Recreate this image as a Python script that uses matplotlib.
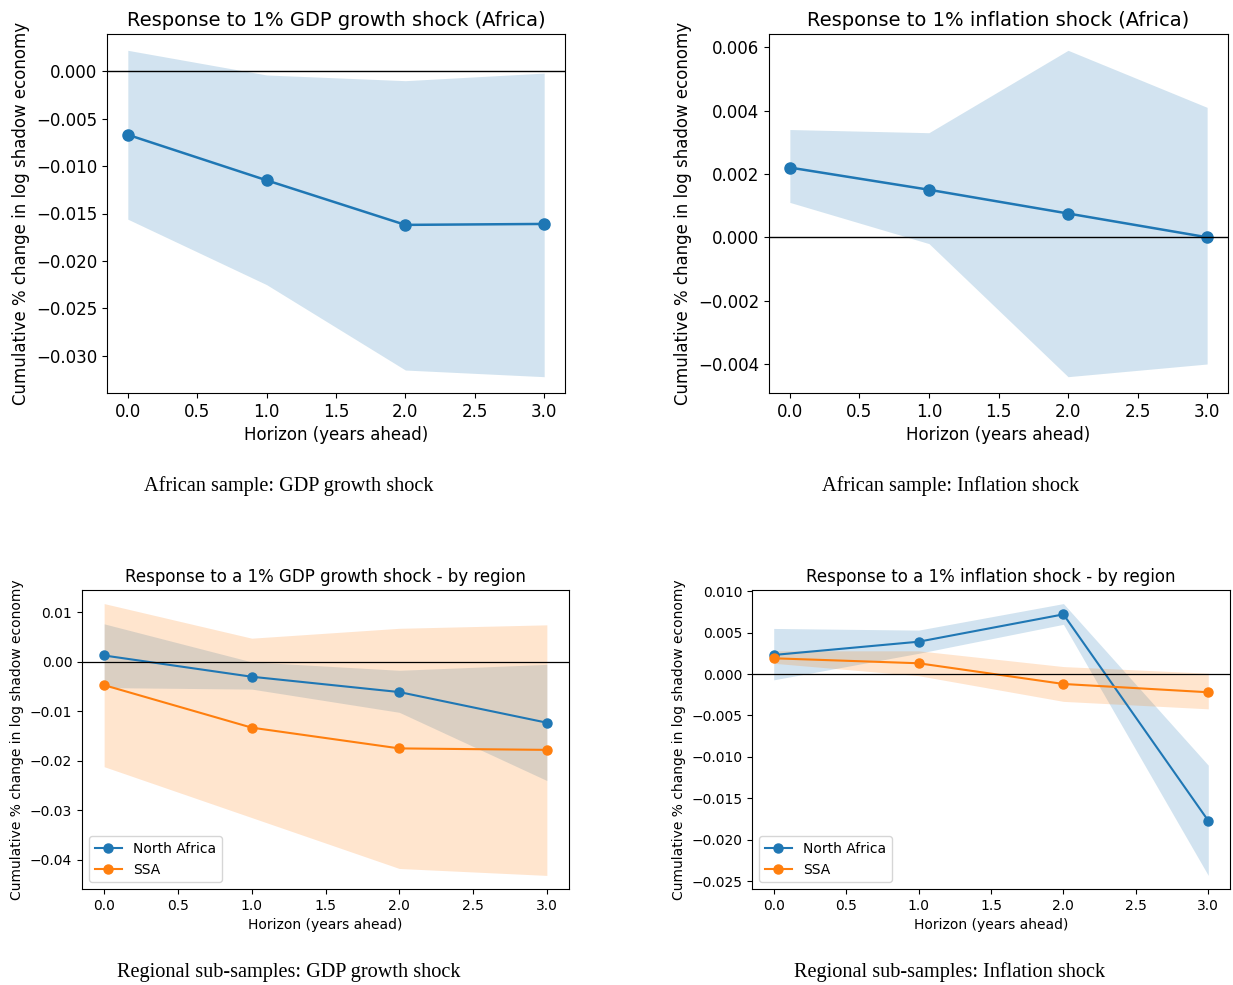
import numpy as np
import matplotlib
matplotlib.use("Agg")
import matplotlib.pyplot as plt

horizon = [0, 1, 2, 3]

# African sample, GDP growth shock
gdp_irf = [-0.0067, -0.0115, -0.0162, -0.0161]
gdp_hi = [0.0022, -0.0004, -0.0010, -0.0002]
gdp_lo = [-0.0156, -0.0225, -0.0315, -0.0322]

# African sample, inflation shock
inf_irf = [0.0022, 0.0015, 0.00075, 0.0]
inf_hi = [0.0034, 0.0033, 0.0059, 0.0041]
inf_lo = [0.0011, -0.0002, -0.0044, -0.0040]

# regional, GDP growth shock
gdp_na = [0.0013, -0.0030, -0.0061, -0.0123]
gdp_na_hi = [0.0077, 0.0000, -0.0017, -0.0005]
gdp_na_lo = [-0.0052, -0.0055, -0.0102, -0.0240]
gdp_ssa = [-0.0047, -0.0133, -0.0175, -0.0178]
gdp_ssa_hi = [0.0118, 0.0048, 0.0068, 0.0075]
gdp_ssa_lo = [-0.0212, -0.0315, -0.0418, -0.0432]

# regional, inflation shock
inf_na = [0.0023, 0.0039, 0.0072, -0.0177]
inf_na_hi = [0.0055, 0.0053, 0.0085, -0.0110]
inf_na_lo = [-0.0007, 0.0025, 0.0060, -0.0243]
inf_ssa = [0.0019, 0.0013, -0.0012, -0.0022]
inf_ssa_hi = [0.0028, 0.0028, 0.0009, 0.0001]
inf_ssa_lo = [0.0013, -0.0002, -0.0033, -0.0042]

ylab = "Cumulative % change in log shadow economy"
xlab = "Horizon (years ahead)"

W, H = 1233, 985
fig = plt.figure(figsize=(W / 100, H / 100), dpi=100)


def box(l, t, r, b):
    return [l / W, 1 - b / H, (r - l) / W, (b - t) / H]


def single(ax, y, lo, hi, title, fs):
    ax.fill_between(horizon, lo, hi, color="C0", alpha=0.2, lw=0)
    ax.plot(horizon, y, "o-", color="C0", lw=1.8, ms=8)
    ax.axhline(0, color="black", lw=1)
    ax.set_title(title, fontsize=fs + 2)
    ax.set_xlabel(xlab, fontsize=fs)
    ax.set_ylabel(ylab, fontsize=fs)
    ax.tick_params(labelsize=fs)


def regional(ax, na, na_lo, na_hi, ssa, ssa_lo, ssa_hi, title, fs):
    ax.plot(horizon, na, "o-", color="C0", lw=1.5, ms=6.5, label="North Africa")
    ax.fill_between(horizon, na_lo, na_hi, color="C0", alpha=0.2, lw=0)
    ax.plot(horizon, ssa, "o-", color="C1", lw=1.5, ms=6.5, label="SSA")
    ax.fill_between(horizon, ssa_lo, ssa_hi, color="C1", alpha=0.2, lw=0)
    ax.axhline(0, color="black", lw=0.9)
    ax.set_title(title, fontsize=fs + 2)
    ax.set_xlabel(xlab, fontsize=fs)
    ax.set_ylabel(ylab, fontsize=fs)
    ax.tick_params(labelsize=fs)
    ax.legend(loc="lower left", fontsize=fs)


ax1 = fig.add_axes(box(107, 34, 565, 393))
single(ax1, gdp_irf, gdp_lo, gdp_hi, "Response to 1% GDP growth shock (Africa)", 12)

ax2 = fig.add_axes(box(769, 34, 1228, 393))
single(ax2, inf_irf, inf_lo, inf_hi, "Response to 1% inflation shock (Africa)", 12)

ax3 = fig.add_axes(box(82, 590, 569, 889))
regional(ax3, gdp_na, gdp_na_lo, gdp_na_hi, gdp_ssa, gdp_ssa_lo, gdp_ssa_hi,
         "Response to a 1% GDP growth shock - by region", 10)

ax4 = fig.add_axes(box(752, 590, 1230, 889))
regional(ax4, inf_na, inf_na_lo, inf_na_hi, inf_ssa, inf_ssa_lo, inf_ssa_hi,
         "Response to a 1% inflation shock - by region", 10)

# captions under each panel
cap = dict(ha="center", va="center", fontsize=14.6, family="Liberation Serif")
fig.text(289 / W, 1 - 486 / H, "African sample: GDP growth shock", **cap)
fig.text(951 / W, 1 - 486 / H, "African sample: Inflation shock", **cap)
fig.text(289 / W, 1 - 972 / H, "Regional sub-samples: GDP growth shock", **cap)
fig.text(950 / W, 1 - 972 / H, "Regional sub-samples: Inflation shock", **cap)

fig.savefig("out.png", dpi=100)
